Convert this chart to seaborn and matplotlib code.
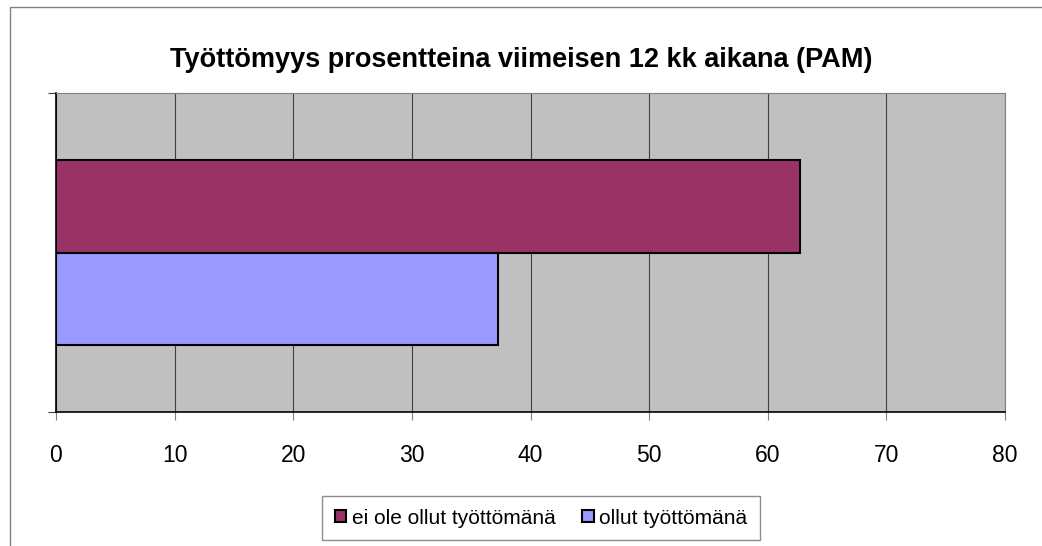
import pandas as pd
import seaborn as sns
import matplotlib.pyplot as plt
from matplotlib.patches import Rectangle

# data
series = ["ei ole ollut työttömänä", "ollut työttömänä"]
values = [62.7, 37.3]
colors = ["#993366", "#9999FF"]
xticks = [0, 10, 20, 30, 40, 50, 60, 70, 80]
title = "Työttömyys prosentteina viimeisen 12 kk aikana (PAM)"

df = pd.DataFrame({"cat": ["PAM"] * len(series), "sarja": series, "arvo": values})

sns.set_style("white")
plt.rcParams["font.family"] = ["Liberation Sans", "DejaVu Sans"]
plt.rcParams["text.color"] = "black"
plt.rcParams["xtick.color"] = "black"
plt.rcParams["ytick.color"] = "black"

fig = plt.figure(figsize=(10.42, 5.46), dpi=100)
ax = fig.add_axes([56 / 1042, 1 - 412 / 546, (1005 - 56) / 1042, (412 - 93) / 546])
ax.set_facecolor("#C0C0C0")

sns.barplot(data=df, x="arvo", y="cat", hue="sarja", palette=colors, orient="h",
            width=0.577, edgecolor="black", linewidth=1.5, saturation=1, ax=ax)

ax.set_xlim(0, 80)
ax.set_ylim(0.5, -0.5)
ax.set_xticks(xticks)
ax.set_xticklabels([str(t) for t in xticks], fontsize=16.5)
ax.set_yticks([-0.5, 0.5])
ax.set_yticklabels([])
ax.set_xlabel("")
ax.set_ylabel("")
ax.grid(axis="x", color="#404040", linewidth=0.8)
ax.set_axisbelow(True)
ax.tick_params(axis="x", length=6, pad=17, color="#808080", bottom=True)
ax.tick_params(axis="y", length=6, color="#404040", left=True)
for s in ["top", "right"]:
    ax.spines[s].set_color("#808080")
    ax.spines[s].set_linewidth(0.8)
for s in ["left", "bottom"]:
    ax.spines[s].set_color("black")
    ax.spines[s].set_linewidth(1.2)

ax.legend_.remove()
handles, labels = ax.get_legend_handles_labels()
leg = fig.legend(handles, labels, loc="center", bbox_to_anchor=(541 / 1042, 1 - 518 / 546),
                 ncol=2, fontsize=15, frameon=True, fancybox=False, handlelength=0.55,
                 handleheight=0.55, handletextpad=0.25, columnspacing=1.3, borderpad=0.6)
leg.get_frame().set_edgecolor("#707070")
leg.get_frame().set_linewidth(1)

fig.text(0.5, 1 - 60 / 546, title, ha="center", va="center", fontsize=19.5,
         fontweight="bold", color="black")

# outer chart frame
fig.patches.append(Rectangle((10 / 1042, -0.02), 1.05, 1 - 7 / 546 + 0.02,
                             transform=fig.transFigure, fill=False,
                             edgecolor="#808080", linewidth=1))

fig.savefig("out.png", dpi=100)
